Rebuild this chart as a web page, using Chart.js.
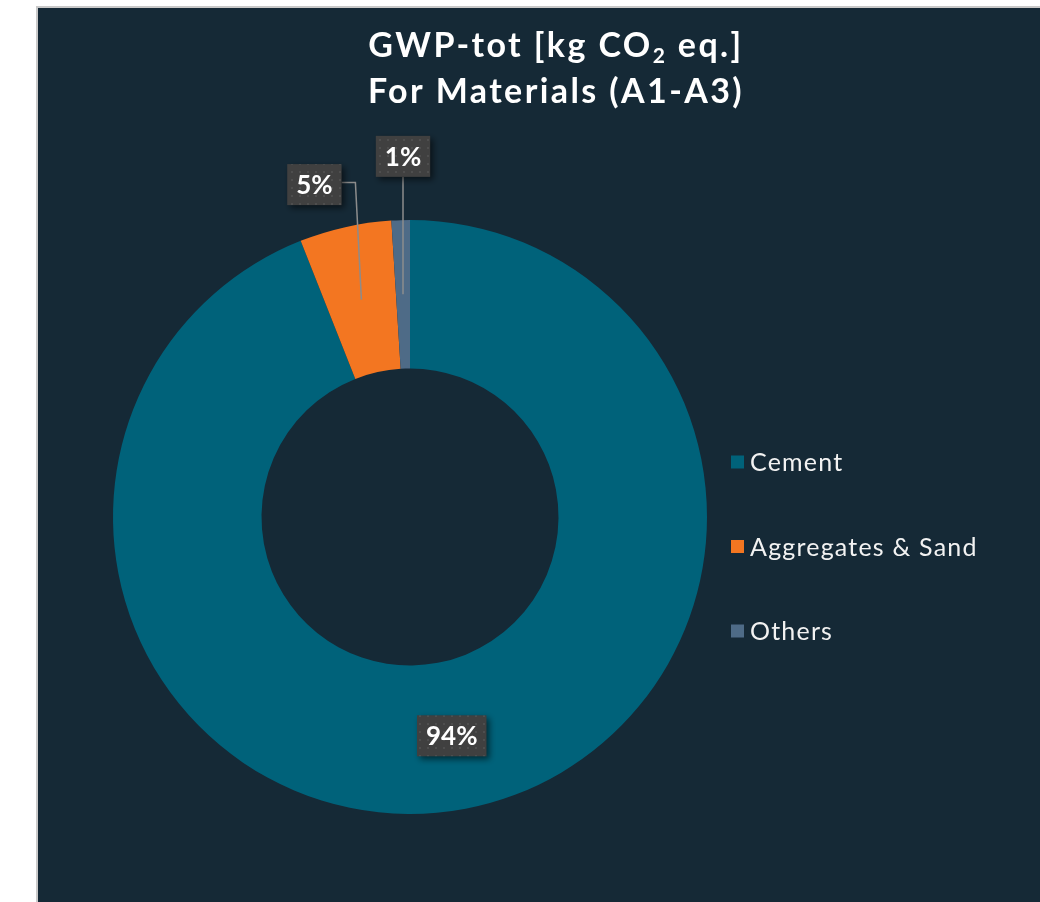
<!DOCTYPE html>
<html>
<head>
<meta charset="utf-8">
<script src="https://cdn.jsdelivr.net/npm/chart.js@4.4.1/dist/chart.umd.min.js"></script>
<style>
  html, body { margin: 0; padding: 0; background: #fff; }
  #wrap { width: 1040px; height: 902px; }
</style>
</head>
<body>
<div id="wrap"><canvas id="chart" width="1040" height="902"></canvas></div>
<script>
  // Данные диаграммы
  const categories = ['Cement', 'Aggregates & Sand', 'Others'];
  const shares = [94, 5, 1];
  const sliceColors = ['#00627a', '#f37621', '#4e6b87'];

  const FONT = "Lato, 'Open Sans', sans-serif";
  const PANEL_BG = '#152936';

  // где ставить подписи относительно середины сектора (как вручную в Excel)
  const labelPlacement = [
    { dx: 0, dy: 0, leader: null },
    { dx: -47, dy: -115, leader: 'elbow' },
    { dx: 0, dy: -138, leader: 'down' }
  ];

  function dotPattern(ctx) {
    const c = document.createElement('canvas');
    c.width = 8;
    c.height = 8;
    const p = c.getContext('2d');
    p.fillStyle = '#404040';
    p.fillRect(0, 0, 8, 8);
    p.fillStyle = '#4e4e4e';
    p.fillRect(3, 3, 2, 2);
    return ctx.createPattern(c, 'repeat');
  }

  const panelPlugin = {
    id: 'panel',
    beforeDraw(chart) {
      const { ctx, width, height } = chart;
      ctx.save();
      ctx.fillStyle = '#ffffff';
      ctx.fillRect(0, 0, width, height);
      ctx.fillStyle = '#c9c9c9';
      ctx.fillRect(36, 6, width - 36, height - 6);
      ctx.fillStyle = PANEL_BG;
      ctx.fillRect(38, 8, width - 38, height - 8);
      ctx.restore();
    }
  };

  const titlePlugin = {
    id: 'subTitle',
    afterDraw(chart) {
      const ctx = chart.ctx;
      const cx = 556;
      ctx.save();
      ctx.fillStyle = '#ffffff';
      ctx.textBaseline = 'alphabetic';
      ctx.letterSpacing = '2.4px';
      const big = 'bold 34px ' + FONT;
      const small = 'bold 21px ' + FONT;
      // строка 1 с подстрочной двойкой
      const parts = [
        { text: 'GWP-tot [kg CO', font: big, dy: 0 },
        { text: '2', font: small, dy: 6 },
        { text: ' eq.]', font: big, dy: 0 }
      ];
      let total = 0;
      parts.forEach(p => {
        ctx.font = p.font;
        p.w = ctx.measureText(p.text).width;
        total += p.w;
      });
      let x = cx - total / 2;
      ctx.textAlign = 'left';
      parts.forEach(p => {
        ctx.font = p.font;
        ctx.fillText(p.text, x, 57 + p.dy);
        x += p.w;
      });
      ctx.font = big;
      const w2 = ctx.measureText('For Materials (A1-A3)').width;
      ctx.fillText('For Materials (A1-A3)', cx - w2 / 2, 103);
      ctx.restore();
    }
  };

  const legendPlugin = {
    id: 'sideLegend',
    afterDraw(chart) {
      const ctx = chart.ctx;
      const x = 731;
      const top = 462;
      const step = 84.5;
      ctx.save();
      ctx.font = '25px ' + FONT;
      ctx.letterSpacing = '1.2px';
      ctx.textBaseline = 'middle';
      ctx.textAlign = 'left';
      categories.forEach((name, i) => {
        const y = top + i * step;
        ctx.fillStyle = sliceColors[i];
        ctx.fillRect(x, y - 6.5, 13, 13);
        ctx.fillStyle = '#f2f2f2';
        ctx.fillText(name, x + 19, y + 1);
      });
      ctx.restore();
    }
  };

  const dataLabelPlugin = {
    id: 'boxLabels',
    afterDatasetsDraw(chart) {
      const ctx = chart.ctx;
      const meta = chart.getDatasetMeta(0);
      const sum = shares.reduce((a, b) => a + b, 0);
      const fill = dotPattern(ctx);
      ctx.save();
      ctx.font = 'bold 26px ' + FONT;
      meta.data.forEach((arc, i) => {
        const pos = arc.tooltipPosition();
        const place = labelPlacement[i];
        const text = Math.round(shares[i] / sum * 100) + '%';
        const w = ctx.measureText(text).width + 18;
        const h = 41;
        const cx = pos.x + place.dx;
        const cy = pos.y + place.dy;

        // линия-выноска
        if (place.leader) {
          ctx.strokeStyle = '#8c8c8c';
          ctx.lineWidth = 1.5;
          ctx.beginPath();
          if (place.leader === 'elbow') {
            ctx.moveTo(cx + w / 2, cy - 2);
            ctx.lineTo(pos.x - 6, cy - 2);
            ctx.lineTo(pos.x, pos.y);
          } else {
            ctx.moveTo(cx, cy + h / 2);
            ctx.lineTo(pos.x, pos.y);
          }
          ctx.stroke();
        }

        ctx.save();
        ctx.shadowColor = 'rgba(0, 0, 0, 0.55)';
        ctx.shadowBlur = 6;
        ctx.shadowOffsetX = 3;
        ctx.shadowOffsetY = 3;
        ctx.fillStyle = fill;
        ctx.fillRect(cx - w / 2, cy - h / 2, w, h);
        ctx.restore();

        ctx.fillStyle = '#ffffff';
        ctx.textAlign = 'center';
        ctx.textBaseline = 'middle';
        ctx.fillText(text, cx, cy + 1);
      });
      ctx.restore();
    }
  };

  new Chart(document.getElementById('chart'), {
    type: 'doughnut',
    data: {
      labels: categories,
      datasets: [{
        data: shares,
        backgroundColor: sliceColors,
        borderWidth: 0
      }]
    },
    options: {
      responsive: false,
      animation: false,
      cutout: '50%',
      layout: {
        padding: { top: 220, bottom: 88, left: 113, right: 333 }
      },
      plugins: {
        legend: { display: false },
        tooltip: { enabled: false }
      }
    },
    plugins: [panelPlugin, dataLabelPlugin, titlePlugin, legendPlugin]
  });
</script>
</body>
</html>
